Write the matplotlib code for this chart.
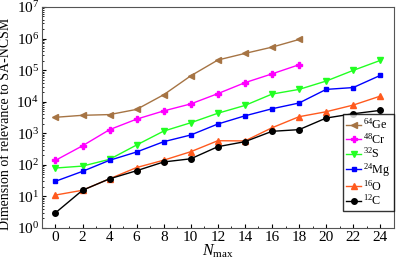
import numpy as np
import matplotlib.pyplot as plt
from matplotlib.ticker import FixedLocator, MultipleLocator, NullFormatter, LogFormatterSciNotation

plt.rcParams['font.family'] = ['Liberation Serif', 'DejaVu Serif']
plt.rcParams['mathtext.fontset'] = 'custom'
plt.rcParams['mathtext.rm'] = 'Liberation Serif'
plt.rcParams['mathtext.it'] = 'Liberation Serif:italic'

# data
nmax_short = [0, 2, 4, 6, 8, 10, 12, 14, 16, 18]
nmax_long = [0, 2, 4, 6, 8, 10, 12, 14, 16, 18, 20, 22, 24]
ge64 = [3200, 3700, 3900, 5700, 16600, 66000, 209000, 338000, 534000, 935000]
cr48 = [138, 400, 1300, 2800, 5100, 8500, 18000, 40000, 76000, 148000]
s32 = [79, 91, 149, 425, 1170, 2150, 4300, 7600, 17400, 24500, 45000, 98000, 203000]
mg24 = [30, 62, 139, 255, 540, 880, 1960, 3560, 5960, 9070, 24500, 28000, 68000]
o16 = [11, 15.6, 36, 82, 140, 260, 580, 570, 1490, 3340, 4800, 7800, 15000]
c12 = [3, 15.6, 36, 65, 123, 155, 375, 540, 1150, 1300, 3030, 4140, 5300]

fig = plt.figure(figsize=(3.99, 2.59), dpi=100)
ax = fig.add_axes([0.105, 0.12, 0.882, 0.853])

ms = 4
ax.plot(nmax_short, ge64, '-<', color='#a67444', lw=1, ms=ms, label='$^{64}$Ge')
ax.plot(nmax_short, cr48, '-P', color='#ff00ff', lw=1, ms=ms, label='$^{48}$Cr')
ax.plot(nmax_long, s32, '-v', color='#22ff22', lw=1, ms=ms, label='$^{32}$S')
ax.plot(nmax_long, mg24, '-s', color='#0000ff', lw=1, ms=3.5, label='$^{24}$Mg')
ax.plot(nmax_long, o16, '-^', color='#ff5a1e', lw=1, ms=ms, label='$^{16}$O')
ax.plot(nmax_long, c12, '-o', color='black', lw=1, ms=ms, label='$^{12}$C')

ax.set_yscale('log')
ax.set_ylim(1, 1e7)
ax.set_xlim(-1, 25)
ax.xaxis.set_major_locator(MultipleLocator(2))
ax.xaxis.set_minor_locator(MultipleLocator(1))
ax.yaxis.set_major_locator(FixedLocator([10.0 ** k for k in range(8)]))
ax.yaxis.set_major_formatter(LogFormatterSciNotation())
ax.yaxis.set_minor_locator(FixedLocator([m * 10.0 ** k for k in range(7) for m in range(2, 10)]))
ax.yaxis.set_minor_formatter(NullFormatter())
ax.tick_params(which='both', direction='in', top=False, right=False, labelsize=11, pad=2)
ax.tick_params(which='major', length=3)
ax.tick_params(which='minor', length=1.5)
for s in ax.spines.values():
    s.set_color('#555555')

ax.set_xlabel('$N_{\\rm max}$', fontsize=11.5, labelpad=-1)
ax.set_ylabel('Dimension of relevance to SA-NCSM', fontsize=10, labelpad=1)
ax.yaxis.set_label_coords(-0.085, 0.47)

leg = ax.legend(loc='lower right', bbox_to_anchor=(1.0, 0.077), fontsize=8.7,
                frameon=True, fancybox=False, edgecolor='black',
                handlelength=1.2, handletextpad=0.2, labelspacing=0.0,
                borderpad=0.25, borderaxespad=0.0)
leg.get_frame().set_linewidth(1)

fig.savefig('out.png', dpi=100)
